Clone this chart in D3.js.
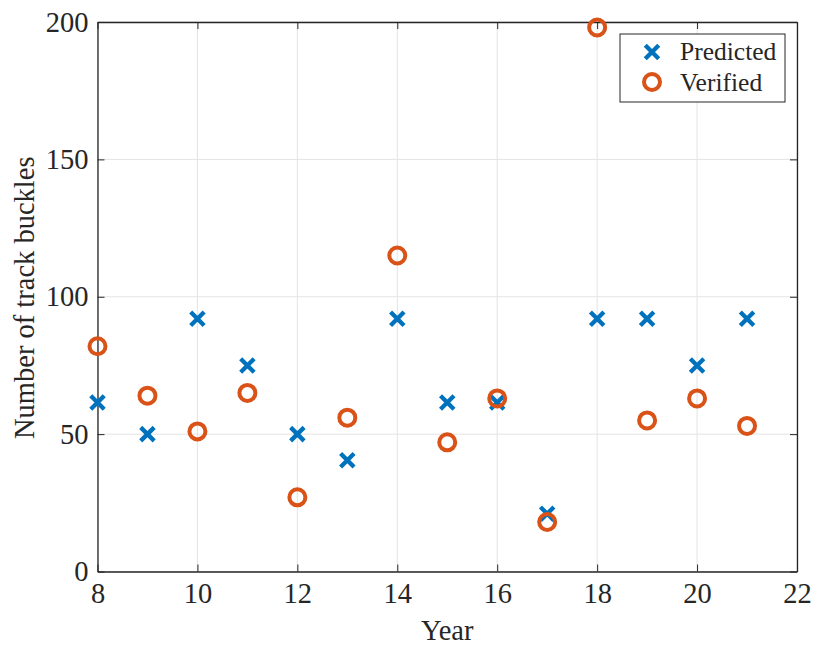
<!DOCTYPE html>
<html>
<head>
<meta charset="utf-8">
<script src="https://cdn.jsdelivr.net/npm/d3@7"></script>
<style>
  body { margin: 0; background: #fff; }
  text { font-family: "Liberation Serif", "Times New Roman", serif; fill: #262626; }
</style>
</head>
<body>
<div id="chart"></div>
<script>
// Years and counts
const years = [8, 9, 10, 11, 12, 13, 14, 15, 16, 17, 18, 19, 20, 21];
const predicted = [61.5, 50, 92, 75, 50, 40.5, 92, 61.5, 61.5, 21, 92, 92, 75, 92];
const verified = [82, 64, 51, 65, 27, 56, 115, 47, 63, 18, 198, 55, 63, 53];
const xTicks = [8, 10, 12, 14, 16, 18, 20, 22];
const yTicks = [0, 50, 100, 150, 200];

const width = 814, height = 647;
const margin = { top: 22, right: 17, bottom: 75.5, left: 97.5 };
const w = width - margin.left - margin.right;
const h = height - margin.top - margin.bottom;

const svg = d3.select("#chart").append("svg")
  .attr("width", width)
  .attr("height", height);

const g = svg.append("g")
  .attr("transform", `translate(${margin.left},${margin.top})`);

const x = d3.scaleLinear().domain([8, 22]).range([0, w]);
const y = d3.scaleLinear().domain([0, 200]).range([h, 0]);

// grid
g.append("g").selectAll("line")
  .data(xTicks)
  .enter().append("line")
  .attr("x1", d => x(d)).attr("x2", d => x(d))
  .attr("y1", 0).attr("y2", h)
  .attr("stroke", "#e3e3e3").attr("stroke-width", 1);

g.append("g").selectAll("line")
  .data(yTicks)
  .enter().append("line")
  .attr("x1", 0).attr("x2", w)
  .attr("y1", d => y(d)).attr("y2", d => y(d))
  .attr("stroke", "#e3e3e3").attr("stroke-width", 1);

// axes (ticks pointing inward, box on)
const tickLen = 7;
const xAxis = g.append("g")
  .attr("transform", `translate(0,${h})`)
  .call(d3.axisBottom(x).tickValues(xTicks).tickSizeInner(-tickLen).tickSizeOuter(0).tickPadding(11));
const yAxis = g.append("g")
  .call(d3.axisLeft(y).tickValues(yTicks).tickSizeInner(-tickLen).tickSizeOuter(0).tickPadding(9));
const xTop = g.append("g")
  .call(d3.axisTop(x).tickValues(xTicks).tickSizeInner(-tickLen).tickSizeOuter(0).tickFormat(""));
const yRight = g.append("g")
  .attr("transform", `translate(${w},0)`)
  .call(d3.axisRight(y).tickValues(yTicks).tickSizeInner(-tickLen).tickSizeOuter(0).tickFormat(""));

[xAxis, yAxis, xTop, yRight].forEach(a => {
  a.selectAll("path").attr("stroke", "#262626").attr("stroke-width", 1.3);
  a.selectAll("line").attr("stroke", "#262626").attr("stroke-width", 1);
  a.selectAll("text")
    .style("font-family", "'Liberation Serif', 'Times New Roman', serif")
    .style("font-size", "28.5px").attr("fill", "#262626");
});

// axis labels
svg.append("text")
  .attr("x", margin.left + w / 2)
  .attr("y", 640)
  .attr("text-anchor", "middle")
  .style("font-size", "28.5px")
  .text("Year");

svg.append("text")
  .attr("transform", `translate(34,${margin.top + h / 2 + 1}) rotate(-90)`)
  .attr("text-anchor", "middle")
  .style("font-size", "28.5px")
  .text("Number of track buckles");

const blue = "#0072BD", orange = "#D95319";
const cross = d3.symbol().type(d3.symbolX).size(120);

// predicted crosses
g.append("g").selectAll("path")
  .data(years.map((yr, i) => [yr, predicted[i]]))
  .enter().append("path")
  .attr("d", cross)
  .attr("transform", d => `translate(${x(d[0])},${y(d[1])})`)
  .attr("fill", "none")
  .attr("stroke", blue)
  .attr("stroke-width", 4.3);

// verified circles
g.append("g").selectAll("circle")
  .data(years.map((yr, i) => [yr, verified[i]]))
  .enter().append("circle")
  .attr("cx", d => x(d[0]))
  .attr("cy", d => y(d[1]))
  .attr("r", 8)
  .attr("fill", "none")
  .attr("stroke", orange)
  .attr("stroke-width", 4);

// legend
const legend = svg.append("g").attr("transform", "translate(620,34)");
legend.append("rect")
  .attr("width", 165).attr("height", 68)
  .attr("fill", "#fff").attr("stroke", "#262626").attr("stroke-width", 1);
legend.append("path")
  .attr("d", cross)
  .attr("transform", "translate(32,18)")
  .attr("fill", "none").attr("stroke", blue).attr("stroke-width", 4.3);
legend.append("circle")
  .attr("cx", 32).attr("cy", 48).attr("r", 8)
  .attr("fill", "none").attr("stroke", orange).attr("stroke-width", 4);
legend.append("text").attr("x", 60).attr("y", 26).style("font-size", "25.5px").text("Predicted");
legend.append("text").attr("x", 60).attr("y", 57).style("font-size", "25.5px").text("Verified");
</script>
</body>
</html>
